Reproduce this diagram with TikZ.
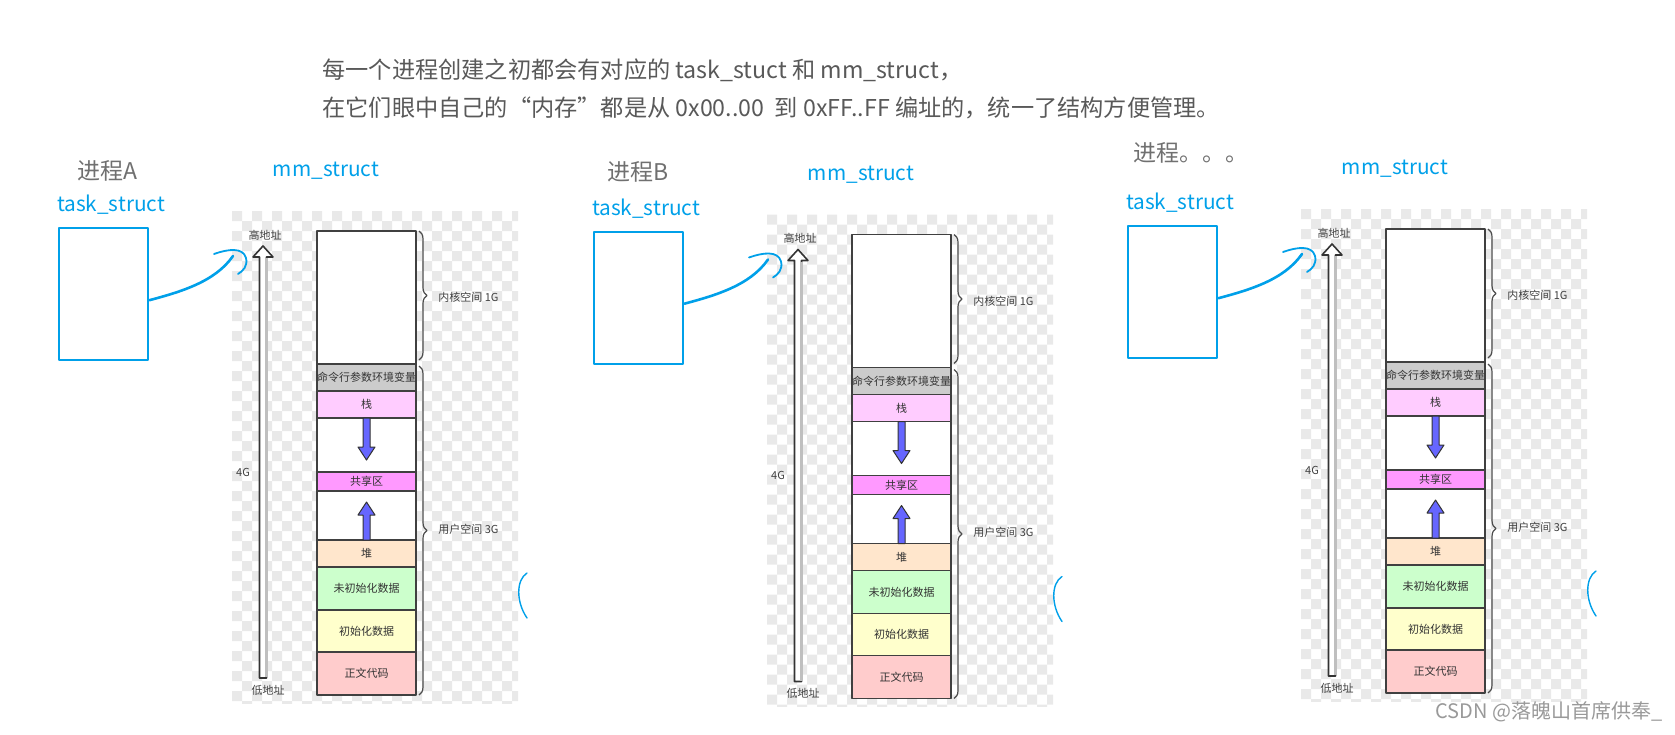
\documentclass[tikz,border=0pt]{standalone}
\usepackage{fontspec}
\setmainfont{Noto Sans CJK SC}
\usepackage{tikz}
\usetikzlibrary{positioning,decorations.pathreplacing}
\definecolor{annblue}{RGB}{0,160,233}
\definecolor{chkgray}{RGB}{233,233,233}
\definecolor{cmdgray}{RGB}{204,204,204}
\definecolor{stackpink}{RGB}{255,204,255}
\definecolor{sharedpink}{RGB}{255,153,255}
\definecolor{heaporange}{RGB}{255,230,204}
\definecolor{bssgreen}{RGB}{204,255,204}
\definecolor{datayellow}{RGB}{255,255,204}
\definecolor{coderose}{RGB}{255,204,204}
\definecolor{growblue}{RGB}{102,102,255}

\begin{document}
\begin{tikzpicture}[x=0.5pt, y=-0.5pt, line join=round,
    seg/.style={draw=black!75, fill=white, line width=0.8pt, minimum width=49.5pt, inner sep=0pt, outer sep=0pt, font=\fontsize{5.5}{6}\selectfont, text=black!80},
    memlbl/.style={inner sep=0pt, font=\fontsize{5.5}{6}\selectfont, text=black!75},
    brc/.style={draw=black!70, line width=0.6pt, decorate, decoration={brace, amplitude=4pt, raise=1.5pt}},
    growarrow/.style={draw=black!80, fill=growblue, line width=0.5pt},
    annlbl/.style={inner sep=0pt, text=annblue, font=\fontsize{10.4}{12}\selectfont},
    title/.style={inner sep=0pt, text=black!56, font=\fontsize{11.5}{13}\selectfont},
    intro/.style={inner sep=0pt, text=black!65, font=\fontsize{11.6}{13}\selectfont},
    scribble/.style={draw=annblue, line width=0.9pt, line cap=round}]
    \useasboundingbox (0,0) rectangle (1675,734);
    \node[intro, anchor=base west] (introa) at (322,78) {每一个进程创建之初都会有对应的 task\_stuct 和 mm\_struct，};
    \node[intro, anchor=base west] (introb) at (322,116) {在它们眼中自己的“内存”都是从 0x00..00\ \ 到 0xFF..FF 编址的，统一了结构方便管理。};
    \node[title] (procA) at (107,171) {进程A};
    \node[title] (procB) at (638,172) {进程B};
    \node[title] (procC) at (1191,153) {进程。。。};
    \foreach \p/\dx/\dy in {A/0/0, B/535/3.5, C/1069/-2} {
    \begin{scope}[shift={(\dx,\dy)}]
        % transparent background of the pasted picture
        \begin{scope}
            \clip (232,211) rectangle (518,703);
            \foreach \r in {0,...,49} {
                \pgfmathtruncatemacro{\o}{mod(\r,2)}
                \fill[chkgray] \foreach \c in {0,2,...,28} {(232+\c*10+\o*10,211+\r*10) rectangle ++(10,10)};
            }
        \end{scope}
        \node[annlbl] (tasklbl\p) at (111,205) {task\_struct};
        \node[annlbl] (mmlbl\p) at (326,171) {mm\_struct};
        \node[draw=annblue, line width=1.2pt, minimum width=44.5pt, minimum height=66pt, inner sep=0pt, anchor=north west] (task\p) at (58,227) {};
        % address axis
        \filldraw[fill=white, draw=black!80, line width=0.8pt] (259.5,678) -- (259.5,257) -- (253,257) -- (263,246) -- (273,257) -- (266.5,257) -- (266.5,678) -- cycle;
        \draw[black!25, line width=1.2pt] (266.5,258) -- (266.5,677);
        \node[memlbl] (hiaddr\p) at (265,235) {高地址};
        \node[memlbl] (loaddr\p) at (268,690) {低地址};
        \node[memlbl] (total\p) at (243,472) {4G};
        % memory layout
        \node[seg, minimum height=66.5pt, anchor=north west] (kernel\p) at (317,231) {};
        \node[seg, fill=cmdgray, minimum height=13.5pt, below=0pt of kernel\p] (cmdenv\p) {命令行参数环境变量};
        \node[seg, fill=stackpink, minimum height=13.5pt, below=0pt of cmdenv\p] (stack\p) {栈};
        \node[seg, minimum height=27pt, below=0pt of stack\p] (gapdn\p) {};
        \node[seg, fill=sharedpink, minimum height=9.5pt, below=0pt of gapdn\p] (shared\p) {共享区};
        \node[seg, minimum height=24.5pt, below=0pt of shared\p] (gapup\p) {};
        \node[seg, fill=heaporange, minimum height=13.5pt, below=0pt of gapup\p] (heap\p) {堆};
        \node[seg, fill=bssgreen, minimum height=21.5pt, below=0pt of heap\p] (bss\p) {未初始化数据};
        \node[seg, fill=datayellow, minimum height=21pt, below=0pt of bss\p] (data\p) {初始化数据};
        \node[seg, fill=coderose, minimum height=21.5pt, below=0pt of data\p] (code\p) {正文代码};
        \draw[growarrow] ([xshift=-1.75pt]stack\p.south) -- ++(0,29) -- ++(-5,0) -- ++(8.5,13) -- ++(8.5,-13) -- ++(-5,0) -- ++(0,-29) -- cycle;
        \draw[growarrow] ([xshift=-1.75pt]heap\p.north) -- ++(0,-25) -- ++(-5,0) -- ++(8.5,-13) -- ++(8.5,13) -- ++(-5,0) -- ++(0,25) -- cycle;
        \draw[brc] (kernel\p.north east) -- ([yshift=2pt]kernel\p.south east);
        \draw[brc] ([yshift=-1pt]cmdenv\p.north east) -- (code\p.south east);
        \node[memlbl, anchor=west] (klbl\p) at ([xshift=11pt]kernel\p.east) {内核空间 1G};
        \node[memlbl, anchor=west] (ulbl\p) at (438,529) {用户空间 3G};
        % hand-drawn marks
        \draw[scribble, line width=1.3pt] ([yshift=-3pt]task\p.east) .. controls (180,292) and (215,282) .. (233,256);
        \draw[scribble] (214,254) .. controls (228,249) and (243,247) .. (246,258) .. controls (248,266) and (243,271) .. (238,274);
        \draw[scribble, line width=0.7pt] (527,573) .. controls (516,580) and (516,602) .. (527,618);
    \end{scope}
    }
    \node[inner sep=0pt, text=black!40, font=\fontsize{10}{12}\selectfont] (mark) at (1549,712) {CSDN @落魄山首席供奉\_};
\end{tikzpicture}
\end{document}
